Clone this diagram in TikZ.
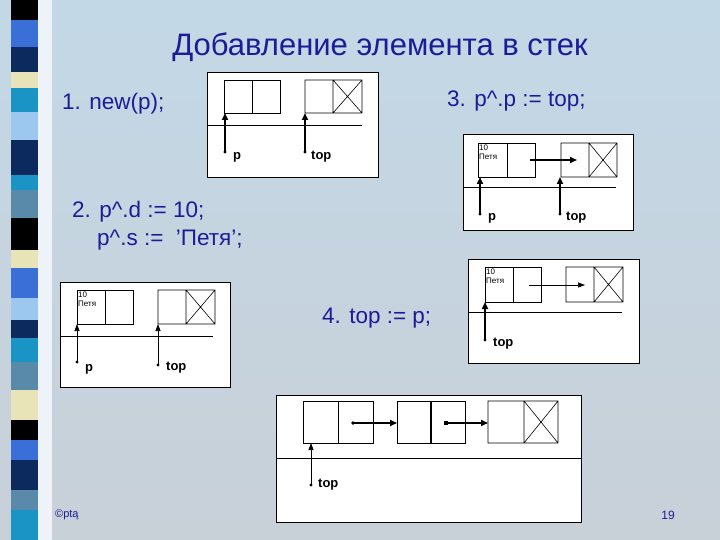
\documentclass[tikz,border=0pt]{standalone}
\usepackage{fontspec}
\setmainfont{Liberation Sans}
\usetikzlibrary{arrows.meta}
\definecolor{txt}{HTML}{1C1C96}
\definecolor{bgA}{HTML}{C3D8E6}
\definecolor{bgB}{HTML}{C8D0D8}
\definecolor{sNavy}{HTML}{0D2A5E}
\definecolor{sBlue}{HTML}{3A6FD8}
\definecolor{sCream}{HTML}{E8E4B8}
\definecolor{sTeal}{HTML}{1A94C4}
\definecolor{sLight}{HTML}{9CC8F0}
\definecolor{sSteel}{HTML}{5A8AAA}
\begin{document}
\begin{tikzpicture}[x=1pt,y=-1pt,
  panel/.style={draw=black,fill=white,line width=0.8pt},
  cell/.style={draw=black,line width=0.6pt},
  ptr/.style={line width=1.6pt,-{Triangle[length=7pt,width=6pt]}},
  thinptr/.style={line width=0.7pt,-{Triangle[length=7pt,width=5pt]}},
  lbl/.style={font=\fontsize{13}{13}\selectfont\bfseries,anchor=west,inner sep=0pt},
  data/.style={font=\fontsize{8}{9}\selectfont,align=left,anchor=north west,inner sep=1pt},
  stmt/.style={text=txt,font=\fontsize{22.5}{26}\selectfont,anchor=west,inner sep=0pt}]
\useasboundingbox (0,0) rectangle (720,540);
\shade[top color=bgA,bottom color=bgB] (0,0) rectangle (720,540);
% left strip
\fill[white!70!bgA] (38,0) rectangle (52,540);
\foreach \a/\b/\c in {0/20/black,20/47/sBlue,47/72/sNavy,72/88/sCream,88/112/sTeal,112/140/sLight,140/175/sNavy,175/190/sTeal,190/218/sSteel,218/250/black,250/268/sCream,268/298/sBlue,298/320/sLight,320/338/sNavy,338/362/sTeal,362/390/sSteel,390/420/sCream,420/440/black,440/460/sBlue,460/490/sNavy,490/510/sSteel,510/540/sTeal}
  \fill[\c] (11,\a) rectangle (38,\b);
% texts
\node[text=txt,font=\fontsize{31}{34}\selectfont,inner sep=0pt] (title) at (380,47) {Добавление элемента в стек};
\node[stmt] (s1) at (62,104) {1. new(p);};
\node[stmt] (s3) at (447,101) {3. p\^{}.p := top;};
\node[stmt] (s2a) at (72,212) {2. p\^{}.d := 10;};
\node[stmt] (s2b) at (97,240) {p\^{}.s :=\ \ 'Петя';};
\node[stmt] (s4) at (322,318) {4. top := p;};
\node[text=txt,font=\fontsize{11}{12}\selectfont,anchor=west,inner sep=0pt] (copy) at (55,515) {©ptą};
\node[text=txt,font=\fontsize{12}{12}\selectfont,inner sep=0pt] (num) at (668,515) {19};
% panel 1
\draw[panel] (207,72) rectangle (378,177);
\draw[cell] (224,80) rectangle (280,113) (252,80) -- (252,113);
\draw[cell] (305,80) rectangle (362,113) (333,80) -- (333,113) (333,80) -- (362,113) (362,80) -- (333,113);
\draw[line width=0.6pt] (207,125) -- (362,125);
\coordinate (p1a) at (225,152); \coordinate (p1b) at (305,152);
\fill (p1a) circle (1.6); \fill (p1b) circle (1.6);
\draw[ptr] (p1a) -- (225,113);
\draw[ptr] (p1b) -- (305,113);
\node[lbl] (l1p) at (233,157) {p};
\node[lbl] (l1t) at (311,157) {top};
% panel 3
\draw[panel] (463,134) rectangle (633,230);
\draw[cell] (478,143) rectangle (535,177) (507,143) -- (507,177);
\node[data] (d3) at (478,144) {10\\Петя};
\draw[cell] (561,143) rectangle (617,177) (589,143) -- (589,177) (589,143) -- (617,177) (617,143) -- (589,177);
\draw[line width=0.6pt] (463,187) -- (616,187);
\draw[ptr] (530,160) -- (577,160);
\coordinate (p3a) at (480,214); \coordinate (p3b) at (560,214);
\fill (p3a) circle (1.6); \fill (p3b) circle (1.6);
\draw[ptr] (p3a) -- (480,177);
\draw[ptr] (p3b) -- (560,177);
\node[lbl] (l3p) at (488,218) {p};
\node[lbl] (l3t) at (566,218) {top};
% panel 2
\draw[panel] (60,282) rectangle (230,387);
\draw[cell] (77,290) rectangle (133,324) (105,290) -- (105,324);
\node[data] (d2) at (77,291) {10\\Петя};
\draw[cell] (158,290) rectangle (215,324) (186,290) -- (186,324) (186,290) -- (215,324) (215,290) -- (186,324);
\draw[line width=0.6pt] (60,336) -- (213,336);
\coordinate (p2a) at (77,362); \coordinate (p2b) at (158,365);
\fill (p2a) circle (1.6); \fill (p2b) circle (1.6);
\draw[thinptr] (p2a) -- (77,324);
\draw[thinptr] (p2b) -- (158,324);
\node[lbl] (l2p) at (85,369) {p};
\node[lbl] (l2t) at (166,368) {top};
% panel 4
\draw[panel] (468,259) rectangle (639,363);
\draw[cell] (485,267) rectangle (541,302) (513,267) -- (513,302);
\node[data] (d4) at (485,268) {10\\Петя};
\draw[cell] (566,267) rectangle (623,302) (594,267) -- (594,302) (594,267) -- (623,302) (623,267) -- (594,302);
\draw[line width=0.6pt] (468,312) -- (622,312);
\draw[thinptr] (529,285) -- (585,285);
\coordinate (p4a) at (485,340);
\fill (p4a) circle (1.6);
\draw[ptr] (p4a) -- (485,302);
\node[lbl] (l4t) at (493,344) {top};
% panel 5
\draw[panel] (276,395) rectangle (581,522);
\draw[cell] (303,401) rectangle (373,443) (338,401) -- (338,443);
\draw[cell] (397,401) rectangle (465,443);
\draw[line width=1.4pt] (431,401) -- (431,443);
\draw[cell] (488,401) rectangle (558,443) (524,401) -- (524,443) (524,401) -- (558,443) (558,401) -- (524,443);
\draw[line width=0.6pt] (276,458) -- (581,458);
\coordinate (p5a) at (353,423); \coordinate (p5b) at (446,423);
\fill (p5a) circle (1.8); \fill[rectangle] (p5b) ++(-2,-2) rectangle ++(4,4);
\draw[ptr] (p5a) -- (397,423);
\draw[ptr] (p5b) -- (488,423);
\coordinate (p5c) at (311,485);
\fill (p5c) circle (1.6);
\draw[thinptr] (p5c) -- (311,443);
\node[lbl] (l5t) at (318,485) {top};
\end{tikzpicture}
\end{document}
